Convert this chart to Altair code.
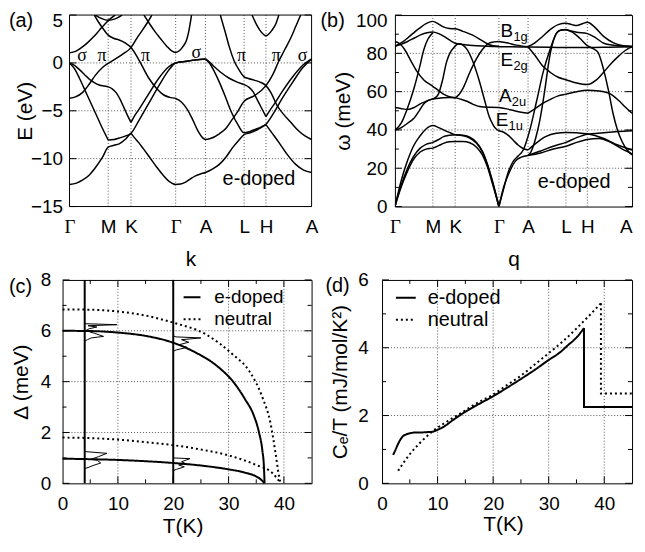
import altair as alt
import pandas as pd

FONT = "Liberation Sans"
SERIF = "Liberation Serif"
FS_TICK = 19
FS_TITLE = 21
FS_TEXT = 20
GRID = "#555555"

# ---------------- k-path (shared by panels a and b) ----------------
KPOS = [0, 39, 62, 107, 137, 176, 198, 244]
KLAB = ["Γ", "M", "K", "Γ", "A", "L", "H", "A"]

# ---------------- (a) electronic bands: (k, E[eV]) ----------------
A_LOW_1 = [(0, -12.7), (7, -12.55), (13, -12.25), (20, -11.7), (26, -10.95), (33, -9.9), (39, -8.8),
           (45, -8.6), (50, -8.45), (56, -8.0), (60, -7.55), (62, -7.35)]
A_LOW_2 = [(62, -7.35), (65, -7.75), (70, -8.35), (74, -8.9), (81, -9.9), (88, -10.9), (95, -11.8),
           (100, -12.35), (104, -12.6), (107, -12.7), (112, -12.65), (117, -12.45), (122, -12.1),
           (127, -11.8), (132, -11.6), (137, -11.45), (144, -11.1), (151, -10.6), (158, -9.8),
           (164, -8.9), (170, -8.15), (176, -7.5), (182, -7.3), (187, -7.1), (193, -6.75), (198, -6.45)]
A_LOW_3 = [(198, -6.45), (204, -7.3), (211, -8.3), (219, -9.5), (228, -10.6), (236, -11.2), (244, -11.45)]
A_LS_1 = [(0, 0.0), (5, -0.6), (10, -1.6), (18, -3.4), (26, -5.2), (33, -6.8), (39, -8.05)]
A_LS_2 = [(39, -8.05), (45, -8.0), (50, -7.85), (56, -7.65), (62, -7.35), (70, -6.0), (80, -4.2),
          (90, -2.4), (100, -0.75), (107, 0.0), (117, 0.15), (127, 0.3), (137, 0.4)]
A_LS_3 = [(137, 0.4), (141, 0.0), (146, -0.9), (151, -2.0), (157, -3.5), (163, -5.1), (170, -6.5),
          (176, -7.3), (182, -7.15), (187, -6.95), (193, -6.7), (198, -6.4), (206, -5.2), (215, -3.6),
          (225, -2.0), (235, -0.5), (244, 0.4)]
A_HS_1 = [(0, 0.0), (5, -0.25), (10, -0.7), (15, -1.2), (20, -1.7), (25, -2.05), (30, -2.3), (35, -2.42),
          (39, -2.5), (43, -2.7), (47, -3.1), (51, -3.8), (55, -4.7), (58.5, -5.5), (62, -6.2)]
A_HS_2 = [(62, -6.2), (66, -5.45), (70, -4.85), (80, -3.2), (90, -1.6), (100, -0.4), (107, 0.0),
          (117, 0.17), (127, 0.32), (137, 0.42)]
A_HS_3 = [(137, 0.42), (141, 0.1), (146, -0.4), (152, -0.95), (161, -1.6), (169, -2.0), (176, -2.27),
          (181, -2.55), (185, -3.0), (189, -3.8), (193, -4.6), (198, -5.6)]
A_HS_4 = [(198, -5.6), (202, -4.95), (206, -4.35), (215, -2.9), (225, -1.45), (235, -0.25), (244, 0.42)]
A_P1 = [(0, -3.7), (6, -3.55), (13, -3.1), (20, -2.2), (26, -1.3), (33, -0.5), (39, -0.05), (46, 0.4),
        (54, 0.95), (62, 1.6), (68, 2.6), (74, 3.5), (79, 4.3), (83, 5.0)]
A_P2 = [(25, 5.0), (29, 4.3), (33, 3.7), (39, 2.9), (45, 2.55), (50, 2.4), (56, 2.1), (62, 1.6), (70, 0.3),
        (80, -1.6), (88, -2.7), (95, -3.35), (101, -3.6), (107, -3.72), (113, -4.1), (119, -4.9),
        (124, -5.9), (130, -7.2), (134, -7.8), (137, -8.0), (142, -7.9), (151, -7.4), (158, -6.8),
        (164, -5.9), (170, -5.0), (176, -4.0), (186, -3.45), (198, -2.37), (205, -1.2), (211, 0.2),
        (217, 1.4), (223, 2.6), (228, 3.8), (233, 5.0)]
A_P3 = [(152, 5.0), (157, 3.2), (161, 1.7), (166, 0.2), (171, -0.75), (176, -1.45), (181, -1.65),
        (186, -1.8), (192, -2.0), (198, -2.37), (203, -3.1), (209, -4.4), (216, -5.4), (223, -6.2),
        (230, -7.0), (237, -7.6), (244, -8.0)]
A_U0 = [(0, 1.05), (6, 1.2), (12, 1.6), (18, 2.1), (24, 2.7), (30, 3.4), (36, 4.1), (41, 4.6), (46, 5.0)]
A_UM = [(26, 5.0), (32, 4.65), (39, 4.45), (46, 4.6), (53, 5.0)]
A_UG = [(75, 5.0), (80, 4.2), (86, 3.3), (92, 2.5), (98, 1.75), (103, 1.25), (107, 1.1), (111, 1.3),
        (115, 1.8), (118, 2.4), (120, 3.2), (123, 5.0)]
A_UH = [(184, 5.0), (188, 4.1), (192, 3.4), (198, 2.83), (204, 3.4), (208, 4.1), (211, 5.0)]
A_SEGS = {"low1": A_LOW_1, "low2": A_LOW_2, "low3": A_LOW_3, "ls1": A_LS_1, "ls2": A_LS_2, "ls3": A_LS_3,
          "hs1": A_HS_1, "hs2": A_HS_2, "hs3": A_HS_3, "hs4": A_HS_4, "p1": A_P1, "p2": A_P2, "p3": A_P3,
          "u0": A_U0, "um": A_UM, "ug": A_UG, "uh": A_UH}
A_SYM_K = [12.7, 32.7, 76.7, 127.7, 173.3, 208.3, 235]
A_SYM_E = [0.73, 0.73, 0.73, 1.07, 0.73, 0.73, 0.73]
A_SYM_T = ["σ", "π", "π", "σ", "π", "π", "σ"]

# ---------------- (b) phonon branches: (q, omega[meV]) ----------------
B_AC1 = [(0, 0), (3, 6.5), (7, 14.5), (13, 24), (19, 31.5), (26, 37), (32, 40.5), (39, 42.3), (45, 41.2),
         (50, 40), (56, 38.7), (62, 37.5), (70, 37.2), (77, 36.2), (84, 33.5), (90, 29), (95, 22.5),
         (100, 14), (104, 6.3), (107, 0)]
B_AC2 = [(0, 0), (3, 5.5), (7, 12), (13, 20), (19, 26), (26, 30.5), (32, 32.5), (39, 33.5), (45, 35),
         (50, 36.5), (56, 37.2), (62, 37.5), (70, 37.0), (77, 35.8), (84, 33.0), (90, 28.5), (95, 22),
         (100, 13.5), (104, 6), (107, 0)]
B_AC3 = [(0, 0), (3, 5), (7, 11), (13, 18.5), (19, 24.5), (26, 28.5), (32, 30), (39, 30.5), (45, 31.8),
         (50, 33), (56, 33.8), (62, 34), (70, 34), (77, 33.3), (84, 31), (90, 27), (95, 21), (100, 12.5),
         (104, 5.5), (107, 0)]
B_E1U_A = [(0, 39.8), (6.6, 43.7), (13, 51.5), (19.8, 62), (25, 72), (29.8, 82), (34, 87.5), (39, 90.7)]
B_E2G_L = [(0, 83.7), (7, 84.8), (13, 86.2), (20, 88), (27, 89.8), (33, 90.8), (39, 91.2), (45, 90.3),
           (50, 89), (56, 87), (62, 85.3), (70, 84.6), (80, 84.1), (90, 83.8), (100, 83.6), (107, 83.5)]
B_TOP_L = [(0, 83.7), (8, 86), (16.5, 89.5), (25, 93), (32, 95.5), (39, 96.7), (45, 95.3), (50, 93.8),
           (56, 93), (62, 92.8), (70, 91.5), (80, 89.5), (90, 86.5), (97, 84.5), (103, 83.8), (107, 83.7)]
B_B1G_1 = [(0, 86.2), (5, 85), (10, 82), (16, 76.5), (23, 70.3), (30, 66), (39, 62.8), (45, 60.5),
           (50, 58.7), (56, 57.3), (62, 56.8)]
B_B1G_2 = [(62, 56.8), (66, 58.5), (70.3, 62), (77, 70), (83.7, 77), (90, 82), (97, 85.3), (102, 86),
           (107, 86.2)]
B_A2U_L = [(0, 51.7), (6, 51.2), (13, 50.7), (20, 51.8), (26.4, 53.7), (33, 55.2), (39, 56.2), (45, 56.5),
           (50, 56.8), (56, 57), (62, 56.8), (68, 56), (74, 55), (80, 53.5), (87, 52.2), (97, 51.8),
           (107, 51.7)]
B_E1U_B = [(0, 39.8), (6.6, 41.2), (13, 43.5), (19.8, 46.2), (25, 50), (29.8, 53.7), (34, 55.3), (39, 56.2),
           (42, 57), (44.7, 58.7), (49, 66), (53, 75.3), (57, 80.5), (60.3, 82.8), (63, 84.3), (66, 85),
           (70, 84.3), (74, 82.2), (80, 76), (87, 65.3), (92, 56), (97, 47), (101, 42.7), (104, 40.6),
           (107, 39.6)]
B_GA_TOP = [(107, 86.2), (115, 85.5), (125, 84.3), (137, 83.5)]
B_GA_FLAT = [(107, 83.5), (120, 83.4), (137, 83.3)]
B_GA_A2U = [(107, 51.7), (115, 51), (125, 49.8), (137, 48.7)]
B_GA_E1U = [(107, 39.6), (112, 38.8), (117, 37), (122, 34.5), (127, 32), (132, 30.3), (137, 29.5)]
B_GA_TA = [(107, 0), (112, 10.3), (117, 17), (124, 23.7), (130, 25.8), (137, 26.7)]
B_LA = [(107, 0), (111, 7.5), (116, 17), (121, 23), (127, 26.5), (132, 29.5), (135, 33.5), (139, 40.3),
        (146, 55.5), (152.6, 70.3), (160, 82.5), (166, 90.3), (171, 92.2), (176, 92.5)]
B_ST2 = [(137, 26.7), (140, 28.5), (143, 32.5), (146, 38), (149.2, 45.3), (154, 60), (159.4, 78.7),
         (164, 88), (169.6, 92), (176, 92.3)]
B_SEC_R = [(176, 92.3), (187, 91), (198, 90.3), (207, 88), (215, 85.3), (230, 84), (244, 83.5)]
B_FALL_R = [(176, 92.5), (183, 91), (190, 88), (198, 84), (204, 82.5), (209, 80.5), (215, 71), (220, 60),
            (224.4, 48.7), (229, 40), (234, 33.7), (239, 29.5), (244, 27)]
B_TOP_R = [(137, 83.5), (144, 85.5), (151.6, 88.7), (160, 92.5), (168, 95), (176, 95.7), (182, 95),
           (187, 94.5), (193, 95.5), (198, 96.2), (205, 94), (215, 88.7), (225, 85.5), (235, 84), (244, 83.7)]
B_FLAT_R = [(137, 83.3), (160, 83.2), (176, 83), (198, 83), (220, 83.2), (244, 83.5)]
B_E2G_R = [(137, 83.3), (144, 79), (151.6, 73.7), (160, 70), (168, 67.5), (176, 66.2), (187, 64.5),
           (198, 63.7), (207, 66), (215, 70.3), (223, 75), (230.5, 78.7), (237, 81.5), (244, 83.5)]
B_A2U_R = [(137, 48.7), (144, 51), (151.5, 53.7), (160, 56), (168, 57.8), (176, 58.7), (187, 60), (198, 60.7),
           (210, 60.3), (222, 58.7), (230, 55.5), (237, 52), (244, 48.7)]
B_G1 = [(137, 26.7), (150, 28), (163, 30), (176, 31.5), (187, 33.5), (198, 35), (210, 35.5), (222, 33.5),
        (234, 30), (244, 27.5)]
B_G2 = [(137, 26.7), (150, 29), (163, 31.5), (176, 33.5), (187, 36), (198, 37.8), (215, 38.5), (230, 39.2),
        (244, 39.6)]
B_G3 = [(137, 29.5), (145, 33), (155, 36.5), (166, 38.3), (176, 38.7), (187, 38.5), (198, 38), (215, 35.5),
        (230, 32), (244, 29.5)]
B_SEGS = {"ac1": B_AC1, "ac2": B_AC2, "ac3": B_AC3, "e1ua": B_E1U_A, "e2gl": B_E2G_L, "topl": B_TOP_L,
          "b1g1": B_B1G_1, "b1g2": B_B1G_2, "a2ul": B_A2U_L, "e1ub": B_E1U_B, "gatop": B_GA_TOP,
          "gaflat": B_GA_FLAT, "gaa2u": B_GA_A2U, "gae1u": B_GA_E1U, "gata": B_GA_TA, "la": B_LA,
          "st2": B_ST2, "secr": B_SEC_R, "fallr": B_FALL_R, "topr": B_TOP_R, "flatr": B_FLAT_R,
          "e2gr": B_E2G_R, "a2ur": B_A2U_R, "g1": B_G1, "g2": B_G2, "g3": B_G3}
B_MODE_MAIN = ["B", "E", "A", "E"]
B_MODE_SUB = ["1g", "2g", "2u", "1u"]
B_MODE_K = [108.7, 108.7, 107.0, 103.7]
B_MODE_W = [91.4, 76.4, 57.9, 45.1]
B_MODE_WSUB = [88.4, 73.2, 54.8, 42.0]

# ---------------- (c) gaps vs T ----------------
C_T_SIG_E = [0, 5, 10, 15, 20, 24, 28, 31, 33, 34.5, 35.5, 36.1, 36.4, 36.5]
C_D_SIG_E = [6.0, 5.99, 5.93, 5.8, 5.53, 5.15, 4.6, 3.95, 3.3, 2.7, 2.0, 1.3, 0.6, 0.0]
C_T_PI_E = [0, 5, 10, 15, 20, 25, 30, 33, 35, 36, 36.5]
C_D_PI_E = [0.97, 0.95, 0.92, 0.87, 0.8, 0.7, 0.55, 0.42, 0.27, 0.12, 0.0]
C_T_SIG_N = [0, 5, 10, 15, 20, 25.9, 30.7, 33.7, 36.1, 37.6, 38.5, 39.1, 39.4]
C_D_SIG_N = [6.84, 6.83, 6.76, 6.6, 6.32, 5.86, 5.08, 4.43, 3.39, 2.34, 1.17, 0.3, 0.0]
C_T_PI_N = [0, 5, 10, 15, 20, 25, 30, 35, 38, 39.4]
C_D_PI_N = [1.8, 1.78, 1.72, 1.62, 1.5, 1.33, 1.1, 0.72, 0.39, 0.0]
C_H_S4 = [(4, 6.28), (9.8, 6.24), (4.6, 6.2), (6.2, 6.15), (4.8, 6.08), (4.3, 6.02), (5.0, 5.95), (5.8, 5.9),
          (7.4, 5.78), (5.2, 5.72), (4.5, 5.65), (4, 5.6)]
C_H_P4 = [(4, 1.25), (8.0, 1.18), (6.5, 1.05), (5.2, 0.95), (6.3, 0.9), (6.9, 0.8), (5.5, 0.7), (4.6, 0.62),
          (4, 0.58)]
C_H_S20 = [(20, 5.8), (20.5, 5.76), (25.0, 5.72), (21.5, 5.65), (22.8, 5.55), (21.0, 5.45), (22.5, 5.35),
           (20.6, 5.25), (20, 5.2)]
C_H_P20 = [(20, 1.0), (23.0, 0.97), (21.5, 0.85), (22.2, 0.78), (21.0, 0.72), (22.0, 0.65), (20.6, 0.55),
           (20, 0.5)]
C_VLINES = [4, 20]

# ---------------- (d) specific heat ----------------
D_T_E = [2.0, 2.4, 2.8, 3.2, 3.7, 4.3, 5.1, 6.0, 6.9, 8.0, 9.0, 10, 11.1, 12.8, 14.6, 17, 19.9, 22.5, 25.2,
         27.6, 30, 32, 33.5, 35, 36.35]
D_C_E = [0.84, 0.98, 1.13, 1.26, 1.38, 1.44, 1.48, 1.5, 1.5, 1.51, 1.52, 1.58, 1.67, 1.87, 2.07, 2.3, 2.56,
         2.82, 3.1, 3.36, 3.64, 3.86, 4.08, 4.3, 4.58]
D_STEP_E = [(36.35, 4.58), (36.35, 2.25), (45, 2.25)]
D_T_N = [2.9, 5.1, 7, 9, 11, 14.6, 17, 19.9, 22.5, 25.2, 27.6, 30, 32.5, 34.7, 37, 39.4]
D_C_N = [0.37, 0.88, 1.22, 1.52, 1.75, 2.11, 2.36, 2.61, 2.9, 3.2, 3.52, 3.84, 4.18, 4.52, 4.9, 5.31]
D_STEP_N = [(39.4, 5.31), (39.4, 2.65), (45, 2.65)]

SERIES = ["e-doped", "neutral"]

# ---------------- layout sizes ----------------
A_OX = 7                      # panel (a) box starts 7px right of its view edge (aligns with panel c)
A_W, A_H = 244, 193
B_W, B_H = 239, 193
C_W, C_H = 251, 205
D_W, D_H = 252, 205
MAJ, MIN = 7, 4
TOP_SHIFT = 6                 # the topmost y label of the upper panels is nudged down to stay on the page


def seg_df(segs):
    rows = []
    for name, pts in segs.items():
        for i, (x, y) in enumerate(pts):
            rows.append({"id": name, "i": i, "x": x, "y": y})
    return pd.DataFrame(rows)


def kexpr():
    e = "''"
    for p, l in zip(reversed(KPOS), reversed(KLAB)):
        e = f"datum.value == {p} ? '{l}' : ({e})"
    return e


def common_axis(**kw):
    base = dict(labelFontSize=FS_TICK, labelFont=FONT, labelColor="black", ticks=False, tickSize=0,
                domain=False, grid=False, titleFontSize=FS_TITLE, titleFont=FONT, titleFontWeight="normal",
                titleColor="black", labelFlush=False, labelOverlap=False)
    base.update(kw)
    return alt.Axis(**base)


def yaxis(values, title, tx, ty, pad, top_value=None):
    kw = dict(values=values, title=title, titleX=tx, titleY=ty, titleAngle=270,
              titleBaseline="middle", titleAlign="center", labelPadding=pad, format="d",
              labelBaseline="middle")
    if top_value is not None:
        kw["labelOffset"] = {"condition": {"test": f"datum.value == {top_value}", "value": TOP_SHIFT},
                             "value": 0}
    return common_axis(**kw)


def xaxis(values, title, tx, ty, expr=None, font=None, align=None):
    kw = dict(values=values, title=title, titleX=tx, titleY=ty, titleBaseline="alphabetic",
              titleAlign="center", titleAngle=0, labelPadding=26, labelBaseline="alphabetic")
    if expr:
        kw["labelExpr"] = expr
    else:
        kw["format"] = "d"
    if font is not None:
        kw["labelFont"] = font
    if align is not None:
        kw["labelAlign"] = align
    return common_axis(**kw)


class Panel:
    """Scales plus the identical axis objects shared by every layer of one panel."""

    def __init__(self, xdom, ydom, ax, ay, W, H, ox=0):
        self.xdom, self.ydom = xdom, ydom
        self.xs = alt.Scale(domain=xdom, range=[ox, ox + W], nice=False, zero=False)
        self.ys = alt.Scale(domain=ydom, nice=False, zero=False)
        self.ax, self.ay, self.W, self.H, self.ox = ax, ay, W, H, ox
        self.VW = W + ox

    def X(self, f):
        return alt.X(f, scale=self.xs, axis=self.ax)

    def Y(self, f):
        return alt.Y(f, scale=self.ys, axis=self.ay)

    def vgrid(self, values):
        return alt.Chart(pd.DataFrame({"x": values})).mark_rule(
            color=GRID, strokeWidth=1, strokeDash=[1, 2]).encode(x=self.X("x:Q"))

    def hgrid(self, values):
        df = pd.DataFrame({"y": values, "x": [self.xdom[0]] * len(values), "x2": [self.xdom[1]] * len(values)})
        return alt.Chart(df).mark_rule(color=GRID, strokeWidth=1, strokeDash=[1, 2]).encode(
            y=self.Y("y:Q"), x=self.X("x:Q"), x2="x2:Q")

    def box(self):
        v = alt.Chart(pd.DataFrame({"x": list(self.xdom)})).mark_rule(color="black", strokeWidth=1).encode(
            x=self.X("x:Q"))
        df = pd.DataFrame({"y": list(self.ydom), "x": [self.xdom[0]] * 2, "x2": [self.xdom[1]] * 2})
        h = alt.Chart(df).mark_rule(color="black", strokeWidth=1).encode(
            y=self.Y("y:Q"), x=self.X("x:Q"), x2="x2:Q")
        return [v, h]

    def yticks(self, values, L):
        df = pd.DataFrame({"y": values})
        spans = ((self.ox, self.ox + L), (self.VW - L, self.VW))
        return [alt.Chart(df).mark_rule(color="black", strokeWidth=1).encode(
            y=self.Y("y:Q"), x=alt.value(x0), x2=alt.value(x1)) for x0, x1 in spans]

    def xticks(self, values, L):
        df = pd.DataFrame({"x": values})
        return [alt.Chart(df).mark_rule(color="black", strokeWidth=1).encode(
            x=self.X("x:Q"), y=alt.value(y0), y2=alt.value(y1)) for y0, y1 in ((self.H - L, self.H), (0, L))]

    def note(self, t, x, y):
        return alt.Chart(pd.DataFrame({"t": [t], "x": [x], "y": [y]})).mark_text(
            align="center", baseline="middle", fontSize=FS_TEXT, font=FONT, color="black").encode(
            text="t:N", x=self.X("x:Q"), y=self.Y("y:Q"))


def tag(t, x, y):
    return alt.Chart(pd.DataFrame({"t": [t]})).mark_text(
        align="left", baseline="middle", fontSize=FS_TEXT, font=FONT, color="black").encode(
        text="t:N", x=alt.value(x), y=alt.value(y))


KFONT = {"condition": {"test": "datum.value == 0 || datum.value == 107", "value": SERIF}, "value": FONT}
KALIGN_B = {"condition": {"test": "datum.value == 244", "value": "right"}, "value": "center"}

# ---------------- panel (a) ----------------
pa = Panel([0, 244], [-15, 5],
           xaxis(KPOS, "k", A_OX + A_W / 2, 59, kexpr(), KFONT),
           yaxis([-15, -10, -5, 0, 5], "E (eV)", -37, A_H / 2, 0, top_value=5), A_W, A_H, ox=A_OX)
bands_a = alt.Chart(seg_df(A_SEGS)).mark_line(color="black", strokeWidth=1.5, interpolate="monotone",
                                               clip=True).encode(
    x=pa.X("x:Q"), y=pa.Y("y:Q"), detail="id:N", order="i:Q")
sym_a = alt.Chart(pd.DataFrame({"x": A_SYM_K, "y": A_SYM_E, "t": A_SYM_T})).mark_text(
    font=SERIF, fontSize=18, baseline="middle", align="center", color="black").encode(
    x=pa.X("x:Q"), y=pa.Y("y:Q"), text="t:N")
panel_a = alt.layer(
    pa.vgrid(KPOS[1:-1]), pa.hgrid([-10, -5, 0]), *pa.yticks([-15, -10, -5, 0, 5], MAJ), *pa.box(),
    bands_a, sym_a, pa.note("e-doped", 191, -12.1), tag("(a)", -54, TOP_SHIFT)
).properties(width=pa.VW, height=A_H, view=alt.ViewBackground(stroke="transparent"))

# ---------------- panel (b) ----------------
pb = Panel([0, 244], [0, 100],
           xaxis(KPOS, "q", B_W / 2, 59, kexpr(), KFONT, KALIGN_B),
           yaxis([0, 20, 40, 60, 80, 100], "ω (meV)", -52, B_H / 2, 8, top_value=100), B_W, B_H)
branches_b = alt.Chart(seg_df(B_SEGS)).mark_line(color="black", strokeWidth=1.5, interpolate="monotone",
                                                  clip=True).encode(
    x=pb.X("x:Q"), y=pb.Y("y:Q"), detail="id:N", order="i:Q")
modes = pd.DataFrame({"m": B_MODE_MAIN, "s": B_MODE_SUB, "x": B_MODE_K, "y": B_MODE_W, "ys": B_MODE_WSUB})
mode_main = alt.Chart(modes).mark_text(font=FONT, fontSize=FS_TICK, align="left", baseline="middle",
                                       color="black").encode(x=pb.X("x:Q"), y=pb.Y("y:Q"), text="m:N")
mode_sub = alt.Chart(modes).mark_text(font=FONT, fontSize=13, align="left", baseline="middle", dx=13,
                                      color="black").encode(x=pb.X("x:Q"), y=pb.Y("ys:Q"), text="s:N")
panel_b = alt.layer(
    pb.vgrid(KPOS[1:-1]), pb.hgrid([20, 40, 60, 80]),
    *pb.yticks([0, 20, 40, 60, 80, 100], MAJ), *pb.yticks([10, 30, 50, 70, 90], MIN),
    branches_b, mode_main, mode_sub, pb.note("e-doped", 184.5, 13), tag("(b)", -75, TOP_SHIFT)
).properties(width=B_W, height=B_H)

# ---------------- panel (c) ----------------
pc = Panel([0, 45], [0, 8],
           xaxis([0, 10, 20, 30, 40], "T(K)", 121, 50),
           yaxis([0, 2, 4, 6, 8], "Δ (meV)", -41, C_H / 2, 12), C_W, C_H)
rows = []
for ser, comp, ts, ds in (("e-doped", "s", C_T_SIG_E, C_D_SIG_E), ("e-doped", "p", C_T_PI_E, C_D_PI_E),
                          ("neutral", "s", C_T_SIG_N, C_D_SIG_N), ("neutral", "p", C_T_PI_N, C_D_PI_N)):
    for i, (t, d) in enumerate(zip(ts, ds)):
        rows.append({"series": ser, "id": ser + comp, "i": i, "x": t, "y": d})
gap_df = pd.DataFrame(rows)
gaps_c = alt.Chart(gap_df).mark_line(color="black", strokeWidth=2, interpolate="monotone").encode(
    x=pc.X("x:Q"), y=pc.Y("y:Q"), detail="id:N", order="i:Q",
    strokeDash=alt.StrokeDash("series:N", scale=alt.Scale(domain=SERIES, range=[[1, 0], [2, 3]]),
                              legend=alt.Legend(orient="none", legendX=121, legendY=8, title=None,
                                                labelFontSize=FS_TICK, labelFont=FONT, labelColor="black",
                                                symbolType="stroke", symbolStrokeWidth=2, symbolSize=289,
                                                symbolStrokeColor="black", labelOffset=13, rowPadding=2,
                                                padding=0)))
hist_c = alt.Chart(seg_df({"s4": C_H_S4, "p4": C_H_P4, "s20": C_H_S20, "p20": C_H_P20})).mark_line(
    color="black", strokeWidth=1, interpolate="linear").encode(
    x=pc.X("x:Q"), y=pc.Y("y:Q"), detail="id:N", order="i:Q")
vl_c = alt.Chart(pd.DataFrame({"x": C_VLINES})).mark_rule(color="black", strokeWidth=2).encode(x=pc.X("x:Q"))
panel_c = alt.layer(
    pc.vgrid([10, 30, 40]), pc.hgrid([2, 4, 6]),
    *pc.yticks([0, 2, 4, 6, 8], MAJ), *pc.yticks([1, 3, 5, 7], MIN),
    *pc.xticks([10, 20, 30, 40], MAJ), *pc.xticks([5, 15, 25, 35], MIN),
    hist_c, vl_c, gaps_c, tag("(c)", -54, 7)
).properties(width=C_W, height=C_H)

# ---------------- panel (d) ----------------
pd_ = Panel([0, 45], [0, 6],
            xaxis([0, 10, 20, 30, 40], "T(K)", 122, 48),
            yaxis([0, 2, 4, 6], "Cₑ/T (mJ/mol/K²)", -42, D_H / 2, 14), D_W, D_H)
rows = []
for ser, ts, cs in (("e-doped", D_T_E, D_C_E), ("neutral", D_T_N, D_C_N)):
    for i, (t, c) in enumerate(zip(ts, cs)):
        rows.append({"series": ser, "id": ser, "i": i, "x": t, "y": c})
cv_df = pd.DataFrame(rows)
rows = []
for ser, pts in (("e-doped", D_STEP_E), ("neutral", D_STEP_N)):
    for i, (t, c) in enumerate(pts):
        rows.append({"series": ser, "id": ser, "i": i, "x": t, "y": c})
st_df = pd.DataFrame(rows)
dash_d = alt.Scale(domain=SERIES, range=[[1, 0], [2, 3]])
leg_d = alt.Legend(orient="none", legendX=13, legendY=7, title=None, labelFontSize=FS_TEXT, labelFont=FONT,
                   labelColor="black", symbolType="stroke", symbolStrokeWidth=2, symbolSize=400,
                   symbolStrokeColor="black", labelOffset=11, rowPadding=1, padding=0)
curve_d = alt.Chart(cv_df).mark_line(color="black", strokeWidth=2, interpolate="monotone").encode(
    x=pd_.X("x:Q"), y=pd_.Y("y:Q"), detail="id:N", order="i:Q",
    strokeDash=alt.StrokeDash("series:N", scale=dash_d, legend=leg_d))
step_d = alt.Chart(st_df).mark_line(color="black", strokeWidth=2, interpolate="linear").encode(
    x=pd_.X("x:Q"), y=pd_.Y("y:Q"), detail="id:N", order="i:Q",
    strokeDash=alt.StrokeDash("series:N", scale=dash_d, legend=leg_d))
panel_d = alt.layer(
    pd_.vgrid([10, 20, 30, 40]), pd_.hgrid([2, 4]),
    *pd_.yticks([0, 2, 4, 6], MAJ), *pd_.yticks([1, 3, 5], MIN),
    *pd_.xticks([10, 20, 30, 40], MAJ), *pd_.xticks([5, 15, 25, 35], MIN),
    curve_d, step_d, tag("(d)", -57, 6)
).properties(width=D_W, height=D_H)

row1 = alt.hconcat(panel_a, panel_b, spacing=84, bounds="flush")
row2 = alt.hconcat(panel_c, panel_d, spacing=71, bounds="flush").resolve_scale(strokeDash="independent")
chart = alt.concat(row1, row2, columns=1, align="none", bounds="full", spacing=0).properties(
    padding={"left": 0, "top": 0, "right": 0, "bottom": 0}
).configure(font=FONT).configure_view(stroke="black", strokeWidth=1)

chart.save("out.html", embed_options={"renderer": "svg", "actions": False})
